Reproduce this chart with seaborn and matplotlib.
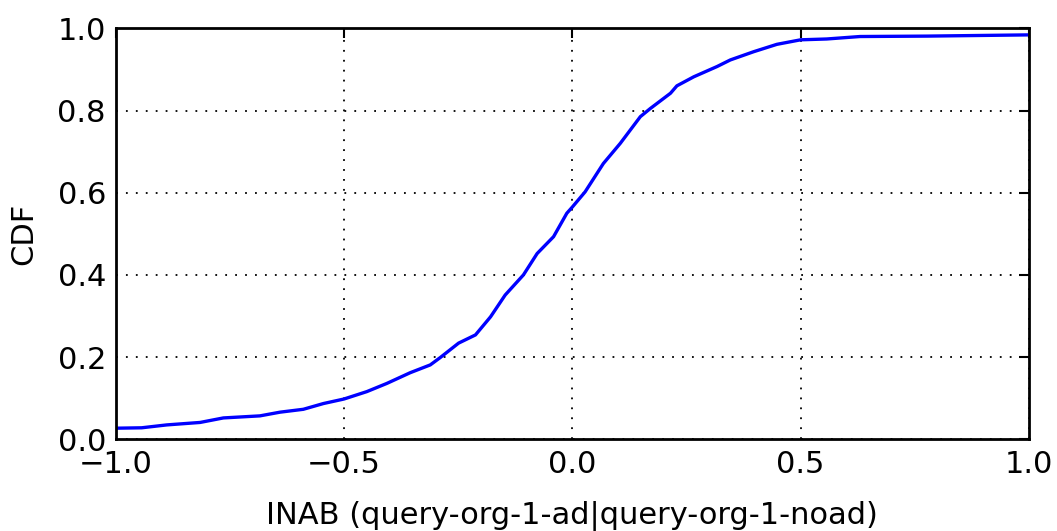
import matplotlib
matplotlib.use("Agg")
import matplotlib.pyplot as plt
import seaborn as sns
import pandas as pd

# CDF curve
inab = [-1.0, -0.943, -0.888, -0.815, -0.764, -0.684, -0.640, -0.589, -0.545, -0.500,
        -0.450, -0.406, -0.355, -0.311, -0.289, -0.249, -0.212, -0.179, -0.147, -0.107,
        -0.077, -0.041, -0.012, 0.000, 0.028, 0.068, 0.105, 0.149, 0.171, 0.215,
        0.229, 0.266, 0.317, 0.346, 0.397, 0.448, 0.500, 0.557, 0.630, 0.777, 1.0]
cdf = [0.027, 0.028, 0.035, 0.041, 0.052, 0.057, 0.066, 0.073, 0.087, 0.098,
       0.116, 0.136, 0.162, 0.181, 0.199, 0.234, 0.254, 0.298, 0.351, 0.400,
       0.452, 0.493, 0.550, 0.565, 0.602, 0.671, 0.720, 0.785, 0.805, 0.842,
       0.860, 0.882, 0.907, 0.923, 0.943, 0.961, 0.972, 0.974, 0.980, 0.981, 0.984]
xticks = [-1.0, -0.5, 0.0, 0.5, 1.0]
yticks = [0.0, 0.2, 0.4, 0.6, 0.8, 1.0]
xlabel = "INAB (query-org-1-ad|query-org-1-noad)"
ylabel = "CDF"

sns.set_style("white")
plt.rcParams['font.family'] = ['DejaVu Sans']
plt.rcParams['text.color'] = 'black'
plt.rcParams['axes.labelcolor'] = 'black'

df = pd.DataFrame({"x": inab, "y": cdf})

fig = plt.figure(figsize=(10.57, 5.31), dpi=100)
ax = fig.add_axes([115.6 / 1057, 1 - 439.3 / 531, (1029 - 115.6) / 1057, (439.3 - 28.3) / 531])

sns.lineplot(data=df, x="x", y="y", ax=ax, color="#0000ff", linewidth=2.4, sort=False)

ax.set_xlim(-1.0, 1.0)
ax.set_ylim(0.0, 1.0)
ax.set_xticks(xticks)
ax.set_yticks(yticks)
ax.set_xticklabels([f"{t:.1f}".replace("-", "\u2212") for t in xticks])
ax.set_yticklabels([f"{t:.1f}" for t in yticks])

ax.grid(True, color="black", linestyle=(0, (1, 4.5)), linewidth=1.3)
for s in ax.spines.values():
    s.set_visible(True)
    s.set_color("black")
    s.set_linewidth(2.0)

ax.tick_params(direction="in", length=7, width=1.5, top=True, right=True,
               labelsize=22, colors="black")
ax.tick_params(axis="x", pad=8)
ax.tick_params(axis="y", pad=7)

ax.set_xlabel(xlabel, fontsize=22, labelpad=15)
ax.set_ylabel(ylabel, fontsize=22, labelpad=14)

fig.savefig("out.png", dpi=100)
